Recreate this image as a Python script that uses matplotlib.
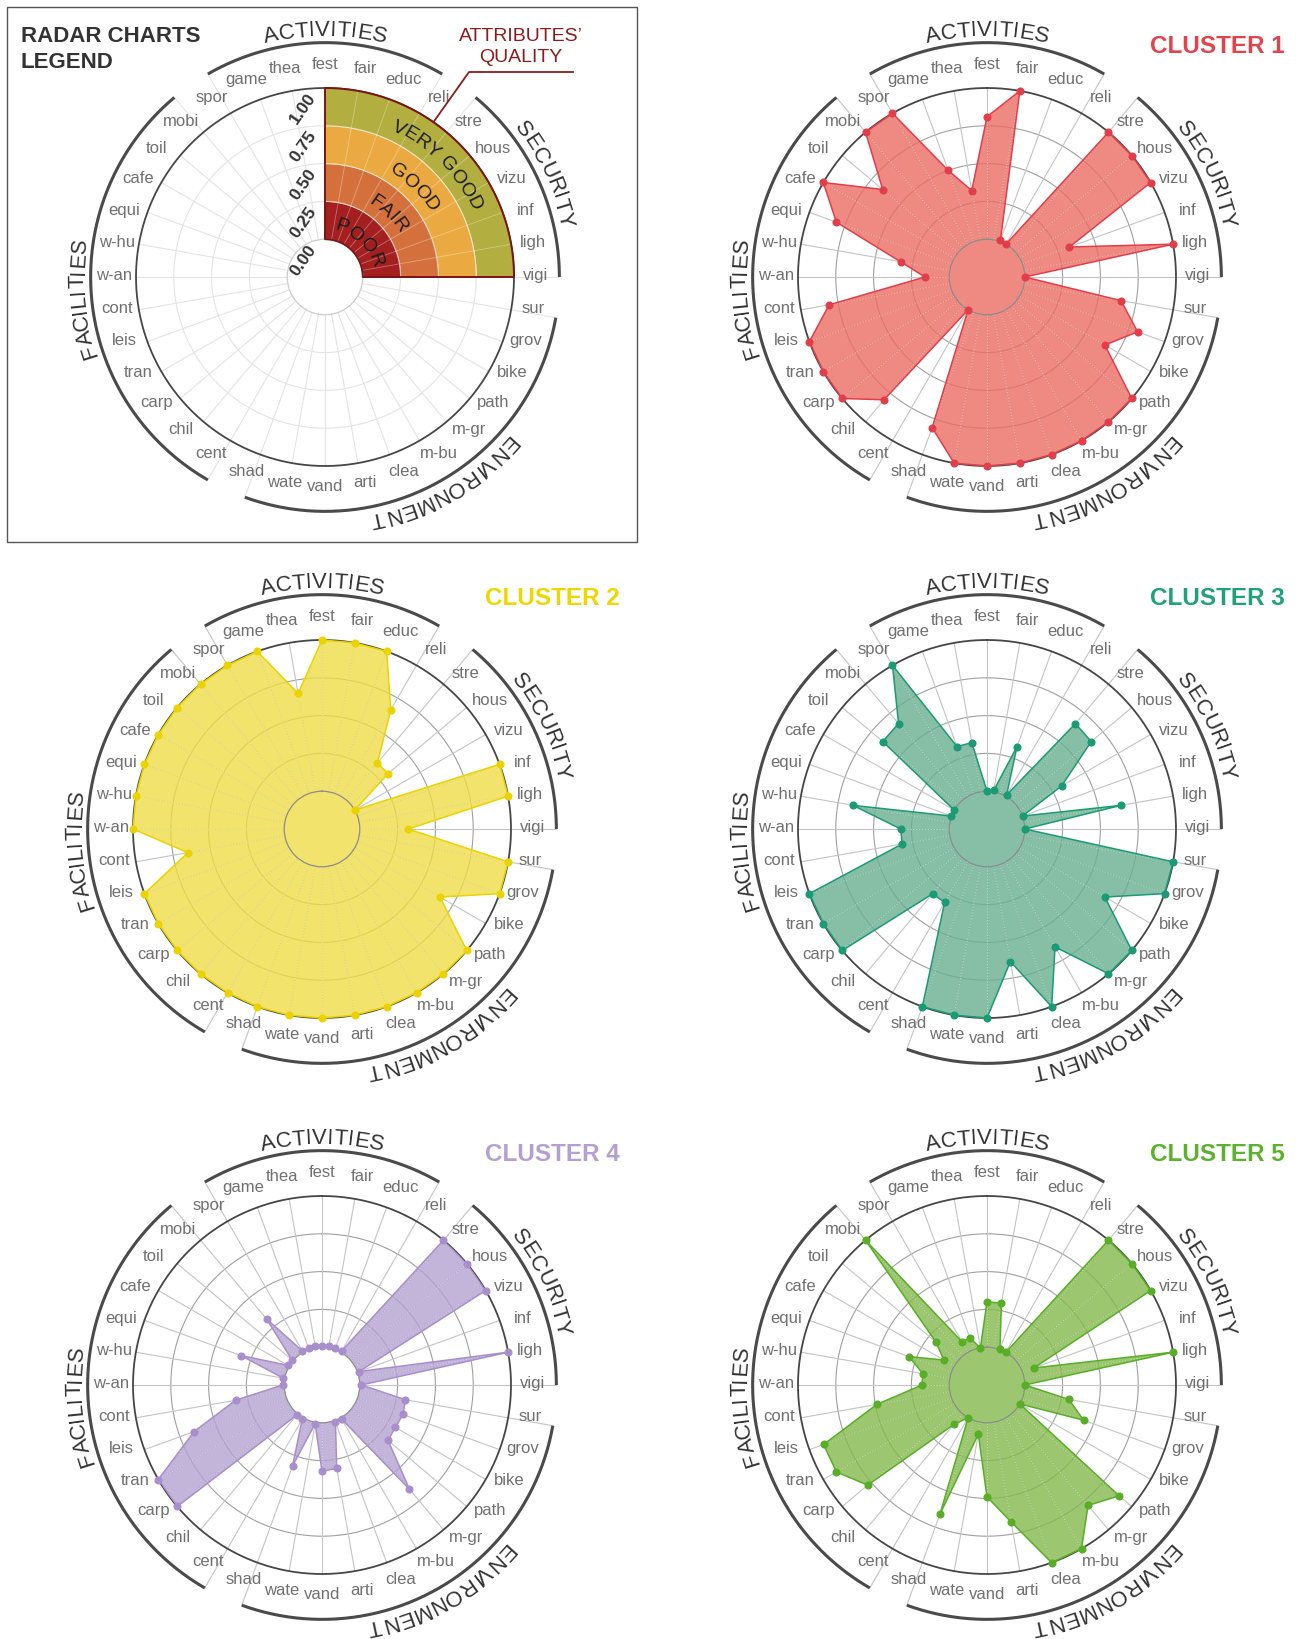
import numpy as np
import matplotlib
matplotlib.use('Agg')
import matplotlib.pyplot as plt
from matplotlib.font_manager import FontProperties, findfont, get_font
from matplotlib.transforms import ScaledTranslation
from matplotlib.patches import Rectangle
from matplotlib.lines import Line2D

FAMILY = ['Liberation Sans', 'DejaVu Sans']
plt.rcParams['font.family'] = FAMILY

W, H, DPI = 1303, 1639, 100
R_PX = 189                      # radius of the 1.00 ring in pixels
HOLE = 0.25                     # empty centre, in value units
PX_PER_UNIT = R_PX / (1 + HOLE)
LABEL_R = 1.145
LABEL_WARP = 3.0                # labels lean a little towards the horizontal, in degrees
ARC_R = 1.30
GROUP_R = 1.345

categories = ['fest', 'fair', 'educ', 'reli', 'stre', 'hous', 'vizu', 'inf', 'ligh', 'vigi',
              'sur', 'grov', 'bike', 'path', 'm-gr', 'm-bu', 'clea', 'arti', 'vand', 'wate',
              'shad', 'cent', 'chil', 'carp', 'tran', 'leis', 'cont', 'w-an', 'w-hu', 'equi',
              'cafe', 'toil', 'mobi', 'spor', 'game', 'thea']

group_names = ['ACTIVITIES', 'SECURITY', 'ENVIRONMENT', 'FACILITIES']
group_first = ['spor', 'stre', 'sur', 'cent']
group_last = ['reli', 'vigi', 'shad', 'mobi']

quality_labels = ['POOR', 'FAIR', 'GOOD', 'VERY GOOD']
quality_bounds = [0, 0.25, 0.5, 0.75, 1.0]
quality_colors = ['#a41f1f', '#d4703c', '#eba942', '#b2ae3f']
r_ticks = [0, 0.25, 0.5, 0.75, 1.0]

cluster1 = [0.81, 1.0, 0.01, 0.0, 1.0, 1.0, 1.0, 0.33, 1.0, 0.0,
            0.65, 0.81, 0.65, 1.0, 1.0, 1.0, 1.0, 1.0, 1.0, 1.0,
            0.81, 0.0, 0.81, 1.0, 1.0, 1.0, 0.81, 0.16, 0.33, 0.81,
            1.0, 0.65, 1.0, 1.0, 0.5, 0.33]
cluster2 = [1.0, 1.0, 1.0, 0.66, 0.32, 0.32, 0.0, 1.0, 1.0, 0.32,
            1.0, 1.0, 0.65, 1.0, 1.0, 1.0, 1.0, 1.0, 1.0, 1.0,
            1.0, 1.0, 1.0, 1.0, 1.0, 1.0, 0.65, 1.0, 1.0, 1.0,
            1.0, 1.0, 1.0, 1.0, 1.0, 0.66]
cluster3 = [0.0, 0.01, 0.33, 0.01, 0.66, 0.65, 0.32, 0.0, 0.65, 0.0,
            1.0, 1.0, 0.65, 1.0, 1.0, 0.65, 1.0, 0.64, 1.0, 1.0,
            1.0, 0.31, 0.31, 1.0, 1.0, 1.0, 0.32, 0.32, 0.65, 0.0,
            0.0, 0.65, 0.66, 1.0, 0.33, 0.33]
cluster4 = [0.01, 0.01, 0.01, 0.01, 1.0, 1.0, 1.0, 0.01, 1.0, 0.01,
            0.31, 0.32, 0.31, 0.32, 0.65, 0.01, 0.01, 0.31, 0.32, 0.01,
            0.32, 0.01, 0.01, 1.0, 1.0, 0.65, 0.33, 0.01, 0.01, 0.32,
            0.01, 0.01, 0.32, 0.01, 0.01, 0.01]
cluster5 = [0.3, 0.3, 0.0, 0.0, 1.0, 1.0, 1.0, 0.08, 1.0, 0.0,
            0.3, 0.43, 0.0, 0.89, 0.79, 1.0, 1.0, 0.67, 0.49, 0.08,
            0.66, 0.0, 0.09, 0.78, 0.9, 0.9, 0.49, 0.18, 0.18, 0.3,
            0.08, 0.19, 1.0, 0.08, 0.08, 0.0]

cluster_values = [cluster1, cluster2, cluster3, cluster4, cluster5]
cluster_titles = ['CLUSTER 1', 'CLUSTER 2', 'CLUSTER 3', 'CLUSTER 4', 'CLUSTER 5']
fill_colors = ['#ea6d63', '#efdc47', '#68b090', '#b4a1d1', '#84ba4c']
line_colors = ['#e23e4a', '#ebd300', '#1a9b74', '#a98ecc', '#58ae27']
title_colors = ['#e3434d', '#eed700', '#22a07a', '#b49fd4', '#5db12e']
hole_filled = [True, True, True, False, True]

legend_center = (325, 277)
cluster_centers = [(987, 277), (322, 829), (987, 829), (322, 1385), (987, 1385)]

theta = np.linspace(0, 2 * np.pi, len(categories), endpoint=False)
cat_angle = dict(zip(categories, np.degrees(theta)))

fig = plt.figure(figsize=(W / DPI, H / DPI), dpi=DPI)


def make_polar(cx, cy, hole_color):
    ax = fig.add_axes([(cx - R_PX) / W, 1 - (cy + R_PX) / H, 2 * R_PX / W, 2 * R_PX / H],
                      projection='polar')
    ax.set_theta_zero_location('N')
    ax.set_theta_direction(-1)
    ax.set_ylim(0, 1)
    ax.set_rorigin(-HOLE)
    ax.set_xticks([])
    ax.set_yticks([])
    ax.grid(False)
    ax.spines['polar'].set_visible(False)
    # polar axes turns the inner spine back on at draw time, so style it instead
    ax.spines['inner'].set_color(hole_color)
    ax.spines['inner'].set_linewidth(0.9)
    return ax


def curved_text(ax, s, center_deg, r_base, size, color, weight='normal'):
    # letters laid along a circle, tops outward, reading clockwise
    fp = FontProperties(family=FAMILY, size=size, weight=weight)
    font = get_font(findfont(fp))
    font.set_size(size, DPI)
    adv = [font.load_char(ord(c)).linearHoriAdvance / 65536 for c in s]
    r_px = (r_base + HOLE) * PX_PER_UNIT
    a = np.radians(center_deg) - sum(adv) / 2 / r_px
    for ch, w in zip(s, adv):
        mid = a + w / 2 / r_px
        ax.text(mid, r_base, ch, rotation=-np.degrees(mid), rotation_mode='anchor',
                ha='center', va='baseline', fontsize=size, color=color, fontweight=weight)
        a += w / r_px


def draw_frame(ax, ring_color, spoke_color):
    t = np.linspace(0, 2 * np.pi, 500)
    for v in [0.25, 0.5, 0.75]:
        ax.plot(t, np.full_like(t, v), color=ring_color, lw=0.8, zorder=1, clip_on=False)
    ax.plot(t, np.ones_like(t), color='#464646', lw=1.3, zorder=1.5, clip_on=False)

    nudge = ScaledTranslation(0, 1.5 / DPI, fig.dpi_scale_trans)
    edges = set(group_first) | set(group_last)
    for name, a in zip(categories, theta):
        top = ARC_R if name in edges else 1.0
        ax.plot([a, a], [0, top], color=spoke_color, lw=0.8, zorder=1, clip_on=False)
        a_lab = a + np.radians(LABEL_WARP) * np.sin(2 * a)
        ax.text(a_lab, LABEL_R, name, ha='center', va='center', fontsize=12, color='#707070',
                transform=ax.transData + nudge)

    for gname, first, last in zip(group_names, group_first, group_last):
        a0, a1 = cat_angle[first], cat_angle[last]
        if a1 < a0:
            a0 -= 360
        t = np.radians(np.linspace(a0, a1, 200))
        ax.plot(t, np.full_like(t, ARC_R), color='#4a4a4a', lw=2.2, clip_on=False,
                solid_capstyle='butt')
        curved_text(ax, gname, (a0 + a1) / 2, GROUP_R, 16, '#333333')


# ---- legend panel ----
ax = make_polar(*legend_center, '#cccccc')
draw_frame(ax, '#e4e4e4', '#e4e4e4')

t = np.linspace(0, np.pi / 2, 200)
for lo, hi, c in zip(quality_bounds[:-1], quality_bounds[1:], quality_colors):
    ax.fill_between(t, lo, hi, color=c, lw=0, zorder=2)
for v in quality_bounds[1:-1]:
    ax.plot(t, np.full_like(t, v), color='white', lw=0.8, alpha=0.7, zorder=2.6)
for a in theta[1:9]:
    ax.plot([a, a], [0, 1], color='white', lw=0.6, alpha=0.35, zorder=2.6)
outline_t = np.concatenate([t, t[::-1]])
outline_r = np.concatenate([np.ones_like(t), np.zeros_like(t)])
ax.plot(np.append(outline_t, 0), np.append(outline_r, 1), color='#7b1414', lw=1.4, zorder=3,
        clip_on=False)

for lab, lo, hi in zip(quality_labels, quality_bounds[:-1], quality_bounds[1:]):
    curved_text(ax, lab, 45, (lo + hi) / 2 - 0.058, 14, '#1c1c1c')

shift = ScaledTranslation(-22 / DPI, -21 / DPI, fig.dpi_scale_trans)
for v in r_ticks:
    ax.text(0, v, f'{v:.2f}', transform=ax.transData + shift, rotation=55,
            ha='center', va='center', fontsize=12.5, fontweight='bold', color='#333333')

fig.add_artist(Rectangle((7 / W, 1 - 542 / H), 630 / W, 535 / H, transform=fig.transFigure,
                         fill=False, ec='#555555', lw=1))
fig.text(21 / W, 1 - 41.5 / H, 'RADAR CHARTS', ha='left', va='baseline', fontsize=16,
         fontweight='bold', color='#333333')
fig.text(21 / W, 1 - 67.5 / H, 'LEGEND', ha='left', va='baseline', fontsize=16,
         fontweight='bold', color='#333333')
fig.text(521 / W, 1 - 41 / H, 'ATTRIBUTES\u2019', ha='center', va='baseline', fontsize=14,
         color='#8b1c1c')
fig.text(521 / W, 1 - 62 / H, 'QUALITY', ha='center', va='baseline', fontsize=14,
         color='#8b1c1c')
lead_x = np.array([legend_center[0] + R_PX * np.sin(np.radians(35)), 469, 573])
lead_y = np.array([legend_center[1] - R_PX * np.cos(np.radians(35)), 72, 72])
fig.add_artist(Line2D(lead_x / W, 1 - lead_y / H, transform=fig.transFigure,
                      color='#8b1c1c', lw=1.3))

# ---- cluster panels ----
for vals, name, fc, lc, tc, filled, (cx, cy) in zip(cluster_values, cluster_titles, fill_colors,
                                                    line_colors, title_colors, hole_filled,
                                                    cluster_centers):
    ax = make_polar(cx, cy, '#8c8c8c')
    draw_frame(ax, '#a0a0a0', '#c4c4c4')

    th = np.append(theta, theta[0])
    r = np.append(vals, vals[0])
    poly, = ax.fill(th, r, color=fc, alpha=0.8, lw=0, zorder=2, clip_on=not filled)
    for a in theta:
        seam, = ax.plot([a, a], [0, 1], color='white', lw=0.7, alpha=0.45,
                        ls=(0, (1.5, 1.5)), zorder=2.5)
        seam.set_clip_path(poly)
    ax.plot(th, r, color=lc, lw=1.1, zorder=4, clip_on=not filled)
    ax.plot(theta, vals, 'o', ms=4.8, color=lc, zorder=5, clip_on=False)

    fig.text((cx + 298) / W, 1 - (cy - 224) / H, name, ha='right', va='baseline',
             fontsize=17.5, fontweight='bold', color=tc)

fig.savefig('out.png', dpi=DPI)
